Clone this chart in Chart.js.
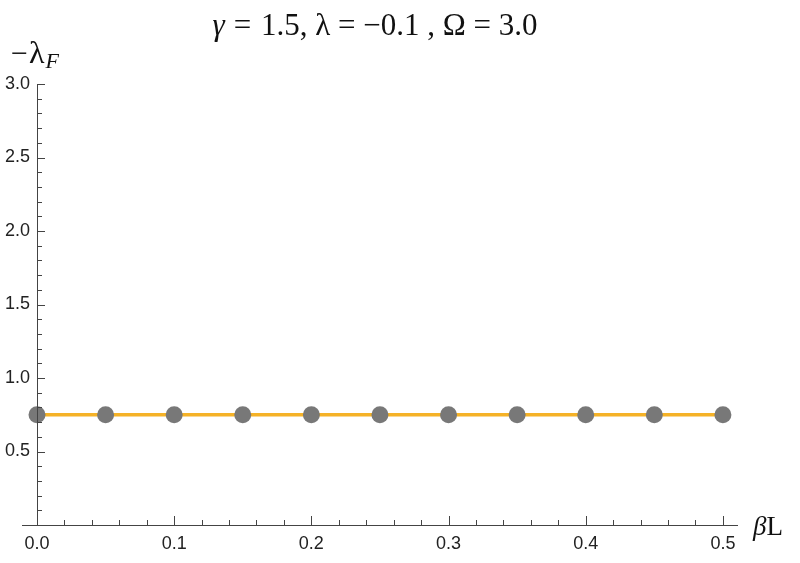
<!DOCTYPE html>
<html>
<head>
<meta charset="utf-8">
<script src="https://cdn.jsdelivr.net/npm/chart.js@4"></script>
<style>
  html, body { margin: 0; padding: 0; background: #fff; }
  #wrap { width: 800px; height: 563px; }
</style>
</head>
<body>
<div id="wrap"><canvas id="myChart" width="800" height="563"></canvas></div>
<script>
// data
const betaL = [0.0, 0.05, 0.1, 0.15, 0.2, 0.25, 0.3, 0.35, 0.4, 0.45, 0.5]
const lambdaF = [0.75, 0.75, 0.75, 0.75, 0.75, 0.75, 0.75, 0.75, 0.75, 0.75, 0.75]
const xTicks = [0.0, 0.1, 0.2, 0.3, 0.4, 0.5]
const yTicks = [0.5, 1.0, 1.5, 2.0, 2.5, 3.0]
const titulo = "1.5, \u03bb = \u22120.1 , \u03a9 = 3.0"

const axisColor = '#444'
const sans = "'Liberation Sans', Arial, sans-serif"
const serif = "'Liberation Serif', 'Times New Roman', serif"

const puntos = betaL.map((x, i) => ({ x: x, y: lambdaF[i] }))

// ejes al estilo Mathematica: ticks hacia dentro, menores y mayores
const ejesPlugin = {
    id: 'ejes',
    afterDraw(chart) {
        const ctx = chart.ctx
        const xs = chart.scales.x
        const ys = chart.scales.y
        const x0 = xs.getPixelForValue(0)
        const y0 = ys.getPixelForValue(0)
        ctx.save()
        ctx.strokeStyle = axisColor
        ctx.lineWidth = 1
        ctx.beginPath()
        // eje x
        ctx.moveTo(x0 - 15, y0 + 0.5)
        ctx.lineTo(xs.getPixelForValue(0.511), y0 + 0.5)
        // eje y
        ctx.moveTo(x0 + 0.5, y0)
        ctx.lineTo(x0 + 0.5, ys.getPixelForValue(3.0))
        // ticks x cada 0.02
        for (let i = 0; i <= 25; i++) {
            const px = Math.round(xs.getPixelForValue(i * 0.02)) + 0.5
            const len = i % 5 === 0 ? 9 : 5
            ctx.moveTo(px, y0)
            ctx.lineTo(px, y0 - len)
        }
        // ticks y cada 0.1
        for (let i = 1; i <= 30; i++) {
            const py = Math.round(ys.getPixelForValue(i * 0.1)) + 0.5
            const len = i % 5 === 0 ? 8 : 5
            ctx.moveTo(x0, py)
            ctx.lineTo(x0 + len, py)
        }
        ctx.stroke()

        // titulo: gamma en cursiva + resto
        ctx.fillStyle = '#111'
        ctx.textBaseline = 'alphabetic'
        ctx.textAlign = 'left'
        ctx.font = 'italic 31px ' + serif
        const g = '\u03b3 = '
        const wg = ctx.measureText(g).width
        ctx.font = '31px ' + serif
        const wt = ctx.measureText(titulo).width
        const x1 = 375 - (wg + wt) / 2
        ctx.font = 'italic 31px ' + serif
        ctx.fillText('\u03b3', x1, 35)
        ctx.font = '31px ' + serif
        ctx.fillText(' = ', x1 + ctx.measureText('\u03b3').width, 35)
        ctx.fillText(titulo, x1 + wg, 35)

        // etiqueta eje y: -lambda_F
        ctx.font = '30px ' + serif
        ctx.fillText('\u2212', 11, 63)
        const wm = ctx.measureText('\u2212').width
        ctx.font = '32px ' + serif
        ctx.fillText('\u03bb', 12 + wm, 63)
        const wl = ctx.measureText('\u03bb').width
        ctx.font = 'italic 22px ' + serif
        ctx.fillText('F', 13 + wm + wl, 68)

        // etiqueta eje x: beta L
        ctx.font = 'italic 27px ' + serif
        ctx.fillText('\u03b2', 753, 535)
        const wb = ctx.measureText('\u03b2').width
        ctx.font = '27px ' + serif
        ctx.fillText('L', 753 + wb, 535)
        ctx.restore()
    }
}

const config = {
    type: 'scatter',
    data: {
        datasets: [
            {
                type: 'line',
                data: puntos,
                borderColor: '#F5B227',
                borderWidth: 3.5,
                pointRadius: 0,
                fill: false,
                order: 2
            },
            {
                data: puntos,
                backgroundColor: '#787878',
                borderWidth: 0,
                pointRadius: 8.5,
                pointHoverRadius: 8.5,
                order: 1
            }
        ]
    },
    options: {
        responsive: false,
        animation: false,
        clip: false,
        layout: { padding: { left: 0, right: 62, top: 84, bottom: 0 } },
        plugins: {
            legend: { display: false },
            tooltip: { enabled: false },
            title: { display: false }
        },
        scales: {
            x: {
                type: 'linear',
                min: 0,
                max: 0.511,
                grid: { display: false, drawTicks: false },
                border: { display: false },
                afterFit(scale) { scale.height = 38 },
                afterBuildTicks(scale) { scale.ticks = xTicks.map(v => ({ value: v })) },
                ticks: {
                    padding: 8,
                    color: '#222',
                    font: { family: sans, size: 18 },
                    callback: v => v.toFixed(1)
                }
            },
            y: {
                type: 'linear',
                min: 0,
                max: 3.0,
                grid: { display: false, drawTicks: false },
                border: { display: false },
                afterFit(scale) { scale.width = 37 },
                afterBuildTicks(scale) { scale.ticks = yTicks.map(v => ({ value: v })) },
                ticks: {
                    padding: 7,
                    color: '#222',
                    font: { family: sans, size: 18 },
                    callback: v => v.toFixed(1)
                }
            }
        }
    },
    plugins: [ejesPlugin]
}

new Chart(document.getElementById('myChart'), config)
</script>
</body>
</html>
